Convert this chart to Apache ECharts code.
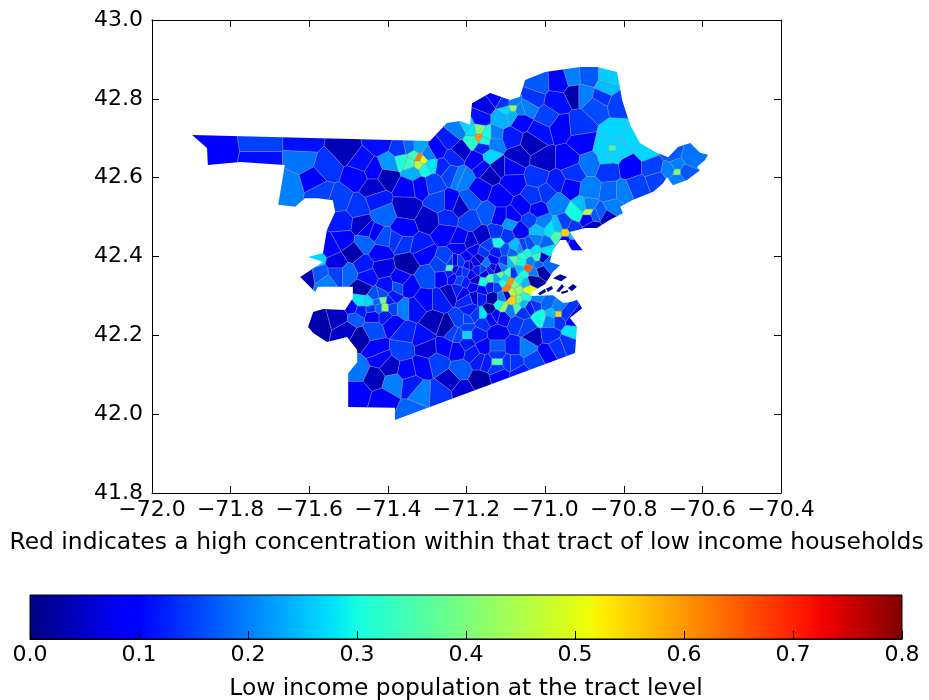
<!DOCTYPE html>
<html><head><meta charset="utf-8">
<style>html,body{margin:0;padding:0;background:#fff}#c{width:929px;height:700px;filter:blur(.45px)}</style>
<script src="https://cdn.jsdelivr.net/npm/echarts@6/dist/echarts.min.js"></script></head>
<body><div id="c"></div>
<script>
const lonTicks=[-72,-70.4], latTicks=[41.8,43];
const mapTitle='Red indicates a high concentration within that tract of low income households';
const barTitle='Low income population at the tract level';
const barRange=[0,0.8];
// jet colormap stops: position, r, g, b
const jetStops=[[0,0,0,128],[.11,0,0,255],[.125,0,0,255],[.34,0,219,255],[.35,0,229,247],[.375,20,255,226],[.64,238,255,8],[.65,247,245,0],[.66,255,235,0],[.89,255,18,0],[.91,242,0,0],[1,128,0,0]];
// region outline (lon,lat)
const outline=[[-71.898,42.708],[-71.293,42.693],[-71.25,42.739],[-71.216,42.744],[-71.191,42.734],[-71.186,42.789],[-71.14,42.815],[-71.089,42.797],[-71.064,42.805],[-71.051,42.848],[-71,42.868],[-70.911,42.881],[-70.868,42.881],[-70.817,42.868],[-70.804,42.797],[-70.784,42.734],[-70.759,42.688],[-70.72,42.665],[-70.687,42.652],[-70.662,42.678],[-70.631,42.688],[-70.606,42.663],[-70.586,42.658],[-70.593,42.645],[-70.614,42.627],[-70.606,42.619],[-70.639,42.594],[-70.675,42.581],[-70.69,42.602],[-70.7,42.586],[-70.725,42.564],[-70.779,42.543],[-70.809,42.526],[-70.802,42.51],[-70.835,42.493],[-70.868,42.472],[-70.898,42.472],[-70.937,42.462],[-70.919,42.434],[-70.904,42.416],[-70.932,42.416],[-70.947,42.442],[-70.962,42.442],[-70.98,42.416],[-70.988,42.386],[-70.962,42.378],[-70.98,42.361],[-71,42.33],[-71.033,42.31],[-71.038,42.3],[-70.98,42.302],[-70.954,42.282],[-70.932,42.285],[-70.919,42.29],[-70.906,42.269],[-70.937,42.244],[-70.919,42.221],[-70.924,42.155],[-71.382,41.985],[-71.382,42.016],[-71.501,42.018],[-71.501,42.104],[-71.478,42.132],[-71.478,42.163],[-71.504,42.196],[-71.555,42.183],[-71.59,42.206],[-71.603,42.221],[-71.59,42.259],[-71.565,42.267],[-71.509,42.264],[-71.489,42.295],[-71.489,42.323],[-71.578,42.323],[-71.585,42.31],[-71.623,42.348],[-71.603,42.361],[-71.565,42.386],[-71.603,42.399],[-71.565,42.409],[-71.555,42.467],[-71.534,42.513],[-71.54,42.543],[-71.578,42.548],[-71.611,42.548],[-71.636,42.526],[-71.679,42.531],[-71.662,42.632],[-71.776,42.64],[-71.858,42.632],[-71.86,42.675]];
// harbor islands (lon,lat rings)
const islands=[[[-70.98,42.345],[-70.962,42.355],[-70.944,42.348],[-70.959,42.337]],[[-70.942,42.32],[-70.929,42.33],[-70.919,42.323],[-70.932,42.312]],[[-70.972,42.312],[-70.957,42.33],[-70.952,42.323],[-70.964,42.31]],[[-70.998,42.318],[-70.983,42.325],[-70.98,42.318],[-70.993,42.31]],[[-71.018,42.307],[-71,42.318],[-70.998,42.31],[-71.013,42.302]],[[-70.96,42.31],[-70.942,42.315],[-70.942,42.31],[-70.957,42.305]]];
// tract centre lon, lat, low income share
const tracts=[[-71.84,42.67,.1],[-71.718,42.688,.15],[-71.718,42.645,.11],[-71.616,42.688,.11],[-71.509,42.67,.04],[-71.618,42.645,.19],[-71.649,42.576,.2],[-71.59,42.594,.1],[-71.555,42.627,.14],[-71.573,42.561,.15],[-71.522,42.543,.15],[-71.476,42.525,.14],[-71.517,42.487,.12],[-71.42,42.688,.11],[-71.466,42.637,.11],[-71.438,42.619,.1],[-71.478,42.602,.09],[-71.438,42.574,.05],[-71.4,42.602,.04],[-71.428,42.543,.12],[-71.413,42.505,.18],[-71.352,42.526,.05],[-71.293,42.493,.05],[-71.362,42.467,.1],[-71.395,42.637,.22],[-71.364,42.645,.31],[-71.344,42.637,.34],[-71.321,42.65,.62],[-71.311,42.645,.5],[-71.306,42.624,.3],[-71.336,42.614,.24],[-71.369,42.67,.14],[-71.344,42.675,.18],[-71.323,42.675,.23],[-71.275,42.67,.1],[-71.242,42.696,.12],[-71.285,42.587,.15],[-71.351,42.576,.1],[-71.318,42.581,.09],[-71.27,42.536,.15],[-71.25,42.498,.13],[-71.234,42.65,.13],[-71.26,42.627,.13],[-71.216,42.602,.2],[-71.514,42.442,.1],[-71.453,42.467,.09],[-71.433,42.46,.09],[-71.466,42.48,.05],[-71.377,42.442,.14],[-71.413,42.447,.16],[-71.318,42.424,.12],[-71.458,42.434,.18],[-71.42,42.409,.1],[-71.585,42.396,.27],[-71.547,42.424,.1],[-71.489,42.409,.03],
[-71.171,42.703,.6],[-71.183,42.716,.28],[-71.148,42.708,.3],[-71.158,42.678,.13],[-71.127,42.708,.2],[-71.222,42.721,.2],[-71.199,42.734,.27],[-71.216,42.67,.05],[-71.173,42.645,.09],[-71.14,42.652,.27],[-71.127,42.688,.2],[-71.089,42.703,.12],[-71.031,42.688,.04],[-71.071,42.652,.05],[-71.005,42.645,.05],[-71.122,42.627,.05],[-71.084,42.627,.1],[-71.158,42.627,.1],[-71.14,42.612,.04],[-71.209,42.599,.2],[-71.242,42.612,.15],[-71.02,42.602,.14],[-71.082,42.587,.09],[-70.942,42.645,.1],[-70.904,42.688,.09],[-71.013,42.716,.11],[-70.962,42.729,.09],[-70.911,42.734,.14],[-70.995,42.754,.15],[-70.868,42.779,.16],[-70.97,42.792,.11],[-71.033,42.802,.14],[-71.02,42.84,.17],[-70.962,42.843,.09],[-70.924,42.815,.03],[-70.904,42.815,.2],[-70.929,42.853,.2],[-70.893,42.855,.17],[-70.843,42.827,.25],[-70.835,42.855,.26],[-70.853,42.804,.14],[-70.817,42.789,.15],[-70.822,42.713,.27],[-70.843,42.652,.27],[-70.83,42.675,.33],[-70.784,42.696,.27],[-70.741,42.67,.27],[-70.784,42.627,.1],[-70.725,42.627,.15],[-70.84,42.619,.14],[-70.886,42.637,.19],[-70.715,42.594,.15],[-70.766,42.576,.15],[-70.835,42.561,.18],[-70.802,42.561,.2],[-70.886,42.569,.2],[-70.929,42.612,.14],[-70.97,42.587,.12],[-70.937,42.576,.1],[-70.995,42.561,.14],[-71.031,42.551,.14],[-70.97,42.536,.2],[-70.904,42.526,.25],[-70.919,42.51,.3],[-70.891,42.513,.45],[-70.86,42.51,.17],[-70.827,42.526,.2],[-70.878,42.475,.04],[-70.843,42.5,.05],[-70.949,42.46,.55],[-70.97,42.454,.35],[-70.987,42.467,.28],[-70.929,42.434,.1],[-71.008,42.485,.2],[-71.038,42.493,.15],[-71.02,42.518,.1],[-71.056,42.526,.1],[-71.084,42.5,.1],[-71.115,42.551,.1],[-71.166,42.569,.09],[-71.191,42.543,.17],[-71.216,42.526,.05],[-71.242,42.536,.09],[-71.148,42.51,.17],[-71.115,42.5,.08],[-71.191,42.493,.15],[-71.064,42.467,.08],[-71.02,42.442,.2],[-71.056,42.424,.15],[-71.158,42.449,.05],[-71.216,42.442,.1],[-71.255,42.46,.1],[-71.183,42.416,.1],[-71.12,42.434,.3],[-71.089,42.485,.22],[-71.077,42.424,.25],[-71.046,42.409,.3],[-70.995,42.416,.28],[-71.018,42.467,.25],
[-71.153,42.784,.07],[-71.166,42.751,.11],[-71.097,42.772,.27],[-71.082,42.777,.42],[-71.11,42.751,.24],[-71.064,42.746,.09],[-71.046,42.779,.2],[-71.127,42.804,.09],
[-71.362,42.434,.14],[-71.311,42.409,.1],[-71.351,42.383,.03],[-71.529,42.384,.07],[-71.463,42.378,.12],[-71.413,42.371,.07],[-71.605,42.348,.04],[-71.573,42.353,.17],[-71.56,42.335,.2],[-71.529,42.358,.15],[-71.501,42.358,.18],[-71.453,42.348,.11],[-71.369,42.34,.1],[-71.3,42.348,.16],[-71.26,42.348,.1],[-71.242,42.371,.35],[-71.466,42.32,.03],[-71.402,42.323,.11],[-71.374,42.323,.16],[-71.349,42.323,.09],[-71.471,42.285,.28],[-71.445,42.285,.27],[-71.412,42.292,.38],[-71.433,42.297,.16],[-71.407,42.269,.42],[-71.362,42.269,.2],[-71.484,42.244,.17],[-71.489,42.269,.1],[-71.438,42.252,.09],[-71.387,42.297,.12],[-71.331,42.269,.11],[-71.285,42.234,.04],[-71.438,42.214,.16],[-71.387,42.231,.1],[-71.578,42.231,.03],[-71.522,42.246,.05],[-71.504,42.214,.05],[-71.471,42.196,.03],[-71.364,42.163,.15],[-71.311,42.196,.11],[-71.3,42.168,.06],[-71.428,42.163,.1],[-71.476,42.112,.19],[-71.42,42.143,.09],[-71.395,42.12,.05],[-71.433,42.092,.04],[-71.387,42.079,.2],[-71.351,42.112,.1],[-71.313,42.12,.09],[-71.339,42.074,.12],[-71.318,42.056,.2],[-71.476,42.054,.1],[-71.412,42.036,.1],[-71.339,42.003,.18],[-71.267,42.054,.14],[-71.242,42.087,.05],[-71.272,42.13,.15],[-71.216,42.112,.17],[-71.209,42.061,.06],[-71.224,42.163,.09],[-71.255,42.17,.1],[-71.199,42.201,.27],[-71.234,42.206,.15],[-71.199,42.239,.15],
[-71.25,42.221,.03],[-71.216,42.239,.15],[-71.158,42.252,.28],[-71.122,42.206,.08],[-71.107,42.247,.09],[-71.071,42.231,.14],[-71.013,42.247,.3],[-70.967,42.254,.55],[-70.987,42.239,.2],[-70.932,42.209,.28],[-70.929,42.239,.1],[-70.995,42.282,.18],[-71.038,42.272,.12],[-71.046,42.221,.15],[-71.031,42.196,.04],[-70.987,42.201,.13],[-70.942,42.181,.14],[-70.97,42.17,.14],[-70.995,42.155,.1],[-71.046,42.17,.2],[-71.082,42.17,.12],[-71.122,42.132,.35],[-71.158,42.17,.1],[-71.122,42.17,.17],[-71.183,42.155,.12],[-71.026,42.137,.15],[-71.082,42.132,.14],[-71.166,42.087,.03],[-71.115,42.1,.1],[-71.064,42.1,.12],[-71.166,42.137,.12],
[-71.107,42.373,.2],[-71.089,42.335,.6],[-71.097,42.32,.62],[-71.084,42.29,.55],[-71.097,42.302,.04],[-71.069,42.315,.42],[-71.064,42.29,.38],[-71.043,42.315,.5],[-71.043,42.371,.65],[-71.013,42.366,.03],[-71.031,42.34,.02],[-71.064,42.34,.3],[-71.064,42.366,.25],[-71.082,42.391,.36],[-71.056,42.399,.32],[-71.02,42.399,.33],[-71.005,42.396,.04],[-70.992,42.384,.18],[-71.115,42.353,.37],[-71.14,42.345,.35],[-71.158,42.335,.3],[-71.122,42.323,.15],[-71.11,42.297,.2],[-71.107,42.272,.42],[-71.133,42.295,.03],[-71.14,42.264,.02],[-71.166,42.297,.12],[-71.199,42.29,.13],[-71.183,42.323,.1],[-71.216,42.34,.15],[-71.148,42.383,.2],[-71.133,42.391,.1],[-71.12,42.366,.05],[-71.173,42.366,.12],[-71.199,42.399,.1],[-71.158,42.409,.14],[-71.216,42.424,.1],[-71.25,42.391,.15],[-71.237,42.348,.1],[-71.242,42.307,.05],[-71.209,42.307,.1],[-71.056,42.282,.25],[-71.071,42.269,.35],[-71.051,42.333,.25],[-71.082,42.358,.14],[-71.094,42.358,.35],[-71.02,42.295,.2],
[-71.191,42.378,.05],[-71.229,42.386,.09],[-71.178,42.34,.05],[-71.153,42.358,.07],[-71.204,42.361,.14],[-71.135,42.371,.06],[-71.166,42.396,.05],[-71.191,42.434,.06],[-71.267,42.29,.12],[-71.306,42.29,.1],[-71.191,42.264,.12],[-71.357,42.206,.13],
[-70.967,42.269,.2],[-70.982,42.254,.25],[-70.949,42.254,.14],[-70.967,42.239,.14],[-71.171,42.718,.4],[-71.183,42.696,.32],[-71.155,42.693,.3],[-71.334,42.657,.34],[-71.321,42.635,.45],[-71.298,42.657,.2],[-71.293,42.632,.28],[-71.145,42.429,.15],[-71.122,42.46,.14],[-71.099,42.452,.14],[-71.102,42.416,.16],[-71.125,42.411,.12],
[-71.102,42.386,.14],[-71.084,42.411,.18],[-71.064,42.421,.22],[-71.038,42.429,.16],[-71.026,42.416,.28],[-71,42.434,.18],[-71.038,42.386,.2],[-71.018,42.378,.18],[-71.102,42.345,.28],[-71.077,42.328,.4],[-71.051,42.297,.3],[-71.084,42.31,.45],[-71.107,42.333,.3],[-71.122,42.345,.24],[-71.14,42.366,.12],[-71.158,42.366,.15],[-71.178,42.386,.08],[-71.196,42.378,.1],[-71.216,42.386,.14],[-71.229,42.366,.08],[-71.204,42.335,.12],[-71.186,42.353,.1],[-71.161,42.315,.1],[-71.14,42.323,.12],[-71.178,42.297,.06],[-71.222,42.315,.12],[-71.115,42.277,.3],[-71.089,42.264,.2],[-71.127,42.252,.1],[-71.059,42.259,.14],[-71.026,42.277,.14],[-71.089,42.386,.25],
[-71.122,42.117,.14],[-71.15,42.132,.12],[-71.094,42.132,.14],[-71.122,42.15,.14],[-71.199,42.221,.15],[-71.199,42.18,.12],[-71.222,42.201,.15],[-71.173,42.201,.12],[-71.178,42.252,.14],[-71.158,42.234,.14],[-71.14,42.244,.1],[-71.262,42.376,.15],[-71.219,42.361,.12],[-71.242,42.356,.12],[-71.242,42.386,.14],
[-71.39,42.269,.15],[-71.407,42.252,.12],[-71.425,42.269,.18],[-71.413,42.302,.16],[-71.43,42.287,.18],[-71.395,42.29,.12],[-71.471,42.264,.12],[-71.44,42.267,.14],
[-71.082,42.79,.2],[-71.064,42.772,.2],[-71.102,42.79,.14],[-71.084,42.759,.24],[-70.848,42.675,.27],[-70.809,42.675,.27],[-70.83,42.69,.27],[-70.83,42.66,.27],
[-70.664,42.614,.4],[-70.682,42.619,.2],[-70.647,42.614,.17],[-70.664,42.63,.2],[-70.664,42.599,.2],[-70.631,42.652,.19],[-70.675,42.662,.17],
[-70.967,42.472,.25],[-70.932,42.472,.14],[-70.949,42.48,.15],[-70.929,42.454,.25],[-70.949,42.442,.1],[-70.891,42.528,.2],[-70.873,42.505,.17],[-70.891,42.498,.1],[-71.059,42.386,.3],[-71.056,42.356,.3],[-71.028,42.361,.2]];

function jet(v){
  const t=Math.max(0,Math.min(1,v/barRange[1]));
  for(let i=1;i<jetStops.length;i++){
    const a=jetStops[i-1],b=jetStops[i];
    if(t<=b[0]){const f=(t-a[0])/(b[0]-a[0]);
      return 'rgb('+[1,2,3].map(k=>Math.round(a[k]+(b[k]-a[k])*f)).join(',')+')';}
  }
  return 'rgb(128,0,0)';
}
// tract boundaries derived from centres
function cutHalf(poly,a,b){
  const mx=(a[0]+b[0])/2,my=(a[1]+b[1])/2,nx=b[0]-a[0],ny=b[1]-a[1],out=[];
  const side=p=>(p[0]-mx)*nx+(p[1]-my)*ny;
  for(let i=0;i<poly.length;i++){
    const p=poly[i],q=poly[(i+1)%poly.length],sp=side(p),sq=side(q);
    if(sp<=0)out.push(p);
    if((sp<0&&sq>0)||(sp>0&&sq<0)){const f=sp/(sp-sq);out.push([p[0]+(q[0]-p[0])*f,p[1]+(q[1]-p[1])*f]);}
  }
  return out;
}
const cells=tracts.map((s,i)=>{
  let poly=[[-72,41.8],[-70.4,41.8],[-70.4,43],[-72,43]];
  tracts.forEach((o,j)=>{if(j!==i&&poly.length)poly=cutHalf(poly,s,o);});
  return poly;
});
const edge='rgba(140,140,175,0.7)';
const xBase={type:'value',min:lonTicks[0],max:lonTicks[1],interval:.2,gridIndex:0,z:10,
  axisLine:{show:true,onZero:false,lineStyle:{color:'#000',width:1}},splitLine:{show:false},
  axisTick:{show:true,inside:true,length:7,lineStyle:{color:'#000'}}};
const yBase={type:'value',min:latTicks[0],max:latTicks[1],interval:.2,gridIndex:0,z:10,
  axisLine:{show:true,onZero:false,lineStyle:{color:'#000',width:1}},splitLine:{show:false},
  axisTick:{show:true,inside:true,length:7,lineStyle:{color:'#000'}}};
const tickFont={fontFamily:'DejaVu Sans',fontSize:22,color:'#000'};
const nameFont={fontFamily:'DejaVu Sans',fontSize:23.4,color:'#000'};
const chart=echarts.init(document.getElementById('c'),null,{renderer:'canvas'});
chart.setOption({
  animation:false,backgroundColor:'#fff',
  grid:[{left:152,top:20,width:629,height:473,outerBoundsMode:'none'},{left:30,top:595,width:872,height:44,outerBoundsMode:'none'}],
  xAxis:[
    Object.assign({},xBase,{position:'bottom',name:mapTitle,nameLocation:'middle',nameGap:38,nameTextStyle:nameFont,
      axisLabel:Object.assign({},tickFont,{margin:6,hideOverlap:false,formatter:v=>v.toFixed(1).replace('-','\u2212')})}),
    Object.assign({},xBase,{position:'top',axisLabel:{show:false}}),
    {type:'value',gridIndex:1,min:barRange[0],max:barRange[1],interval:.1,z:10,position:'bottom',
     name:barTitle,nameLocation:'middle',nameGap:38,nameTextStyle:nameFont,
     axisLine:{show:true,lineStyle:{color:'#000'}},splitLine:{show:false},
     axisTick:{show:true,inside:true,length:8,lineStyle:{color:'#000'}},
     axisLabel:Object.assign({},tickFont,{margin:5,hideOverlap:false,formatter:v=>v.toFixed(1)})}
  ],
  yAxis:[
    Object.assign({},yBase,{position:'left',axisLabel:Object.assign({},tickFont,{margin:9,formatter:v=>v.toFixed(1)})}),
    Object.assign({},yBase,{position:'right',axisLabel:{show:false}}),
    {type:'value',gridIndex:1,min:0,max:1,show:false}
  ],
  series:[
    {type:'custom',xAxisIndex:0,yAxisIndex:0,silent:true,clip:true,data:tracts,
     encode:{x:0,y:1},
     renderItem(p,api){
       const v=tracts[p.dataIndex][2];
       return {type:'polygon',shape:{points:cells[p.dataIndex].map(c=>api.coord(c))},
         style:{fill:jet(v),stroke:edge,lineWidth:.6},
         clipPath:{type:'polygon',shape:{points:outline.map(c=>api.coord(c))}}};
     }},
    {type:'custom',xAxisIndex:0,yAxisIndex:0,silent:true,clip:true,data:islands.map((r,i)=>[r[0][0],r[0][1],i]),
     encode:{x:0,y:1},
     renderItem(p,api){
       return {type:'polygon',shape:{points:islands[p.dataIndex].map(c=>api.coord(c))},style:{fill:jet(.02)}};
     }},
    {type:'custom',xAxisIndex:2,yAxisIndex:2,silent:true,data:[[barRange[0],0],[barRange[1],1]],encode:{x:0,y:1},
     renderItem(p,api){
       if(p.dataIndex)return;
       const a=api.coord([barRange[0],1]),b=api.coord([barRange[1],0]);
       return {type:'rect',shape:{x:a[0],y:a[1],width:b[0]-a[0],height:b[1]-a[1]},
         style:{stroke:'#000',lineWidth:1,fill:new echarts.graphic.LinearGradient(0,0,1,0,
           jetStops.map(s=>({offset:s[0],color:'rgb('+s[1]+','+s[2]+','+s[3]+')'})))}};
     }}
  ]
});
</script></body></html>
